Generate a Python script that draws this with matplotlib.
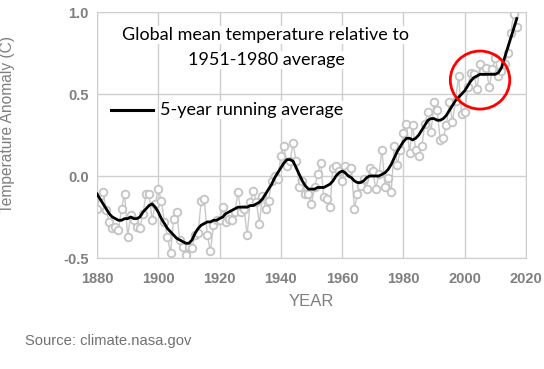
import matplotlib
matplotlib.use("Agg")
import matplotlib.pyplot as plt
from matplotlib.patches import Ellipse

# annual anomaly (C), relative to 1951-1980
years = list(range(1880, 2018))
annual = [
    -0.20, -0.12, -0.10, -0.21, -0.28, -0.32, -0.31, -0.33, -0.20, -0.11,
    -0.37, -0.24, -0.27, -0.31, -0.32, -0.23, -0.11, -0.11, -0.27, -0.17,
    -0.08, -0.15, -0.28, -0.37, -0.47, -0.26, -0.22, -0.39, -0.43, -0.48,
    -0.43, -0.44, -0.36, -0.35, -0.15, -0.14, -0.36, -0.46, -0.30, -0.27,
    -0.27, -0.19, -0.28, -0.26, -0.27, -0.22, -0.10, -0.22, -0.20, -0.36,
    -0.16, -0.09, -0.16, -0.29, -0.12, -0.20, -0.15, -0.03, -0.00, -0.02,
    0.12, 0.18, 0.06, 0.09, 0.20, 0.09, -0.07, -0.03, -0.11, -0.11,
    -0.17, -0.07, 0.01, 0.08, -0.13, -0.14, -0.19, 0.05, 0.06, 0.03,
    -0.03, 0.06, 0.03, 0.05, -0.20, -0.11, -0.06, -0.02, -0.08, 0.05,
    0.03, -0.08, 0.01, 0.16, -0.07, -0.01, -0.10, 0.18, 0.07, 0.16,
    0.26, 0.32, 0.14, 0.31, 0.16, 0.12, 0.18, 0.32, 0.39, 0.27,
    0.45, 0.40, 0.22, 0.23, 0.31, 0.45, 0.33, 0.46, 0.61, 0.38,
    0.39, 0.54, 0.63, 0.62, 0.53, 0.68, 0.64, 0.66, 0.54, 0.65,
    0.72, 0.61, 0.64, 0.68, 0.75, 0.87, 0.99, 0.91,
]

# smoothed curve
smooth = [
    -0.11, -0.14, -0.17, -0.20, -0.23, -0.25, -0.26, -0.27, -0.27, -0.26,
    -0.26, -0.25, -0.26, -0.26, -0.25, -0.22, -0.20, -0.18, -0.17, -0.19,
    -0.22, -0.26, -0.29, -0.32, -0.34, -0.36, -0.38, -0.39, -0.40, -0.41,
    -0.41, -0.39, -0.35, -0.32, -0.30, -0.29, -0.28, -0.28, -0.27, -0.27,
    -0.26, -0.25, -0.23, -0.22, -0.21, -0.20, -0.19, -0.19, -0.19, -0.19,
    -0.18, -0.18, -0.17, -0.16, -0.14, -0.11, -0.08, -0.05, -0.01, 0.02,
    0.05, 0.08, 0.10, 0.10, 0.09, 0.05, 0.01, -0.03, -0.06, -0.08,
    -0.08, -0.08, -0.07, -0.07, -0.07, -0.06, -0.05, -0.03, 0.00, 0.02,
    0.03, 0.02, 0.00, -0.01, -0.03, -0.04, -0.04, -0.03, -0.01, 0.00,
    0.00, 0.00, 0.00, 0.01, 0.02, 0.04, 0.07, 0.11, 0.15, 0.18,
    0.21, 0.23, 0.23, 0.22, 0.23, 0.25, 0.28, 0.31, 0.34, 0.35,
    0.35, 0.34, 0.34, 0.35, 0.37, 0.40, 0.43, 0.46, 0.48, 0.50,
    0.52, 0.55, 0.58, 0.60, 0.61, 0.62, 0.62, 0.62, 0.62, 0.62,
    0.62, 0.63, 0.66, 0.72, 0.78, 0.84, 0.90, 0.96,
]

xticks = [1880, 1900, 1920, 1940, 1960, 1980, 2000, 2020]
yticks = [-0.5, 0.0, 0.5, 1.0]

grey = "#7f7f7f"
light = "#cfcfcf"

fig = plt.figure(figsize=(5.44, 3.69), dpi=100)
ax = fig.add_axes([97 / 544, 1 - 258 / 369, 429 / 544, 246 / 369])

ax.plot(years, annual, color="#c8c8c8", lw=1, marker="o", ms=5.5,
        mfc="white", mec="#c4c4c4", mew=1.3, zorder=2)
ax.plot(years, smooth, color="black", lw=2, zorder=3)

ax.set_xlim(1880, 2020)
ax.set_ylim(-0.5, 1.0)
ax.set_xticks(xticks)
ax.set_yticks(yticks)
ax.set_yticklabels(["-0.5", "0.0", "0.5", "1.0"])
ax.grid(True, color=light, lw=1)
ax.set_axisbelow(True)
ax.tick_params(length=0, labelsize=10.5, labelcolor=grey)
ax.tick_params(axis="x", pad=10)
ax.tick_params(axis="y", pad=6)
for lab in ax.get_xticklabels() + ax.get_yticklabels():
    lab.set_fontweight("bold")
    lab.set_family("Liberation Sans")
for s in ax.spines.values():
    s.set_color(light)

ax.set_xlabel("YEAR", color=grey, fontsize=12, family="Liberation Sans", labelpad=6)
fig.text(8 / 544, 1 - 124 / 369, "Temperature Anomaly (C)", rotation=90,
         ha="center", va="center", color=grey, fontsize=11.2,
         family="Liberation Sans")

# red circle around the 2000s plateau
ax.add_patch(Ellipse((2005, 0.585), 19.4, 0.354, fill=False, ec="red",
                     lw=2, clip_on=False, zorder=4))

# annotation texts
box = dict(facecolor="white", edgecolor="none", pad=1)
fig.text(266 / 544, 1 - 35 / 369, "Global mean temperature relative to",
         ha="center", va="center", fontsize=13, family="Lato", bbox=box)
fig.text(266 / 544, 1 - 60 / 369, "1951-1980 average",
         ha="center", va="center", fontsize=13, family="Lato", bbox=box)
fig.add_artist(plt.Line2D([111 / 544, 153 / 544], [1 - 110 / 369, 1 - 110 / 369],
                          color="black", lw=2.2))
fig.text(160 / 544, 1 - 110 / 369, "5-year running average",
         ha="left", va="center", fontsize=13, family="Lato", bbox=box)

fig.text(25 / 544, 1 - 341 / 369, "Source: climate.nasa.gov", color="#707070",
         fontsize=10.6, family="Liberation Sans", va="center")

fig.savefig("out.png", dpi=100)
